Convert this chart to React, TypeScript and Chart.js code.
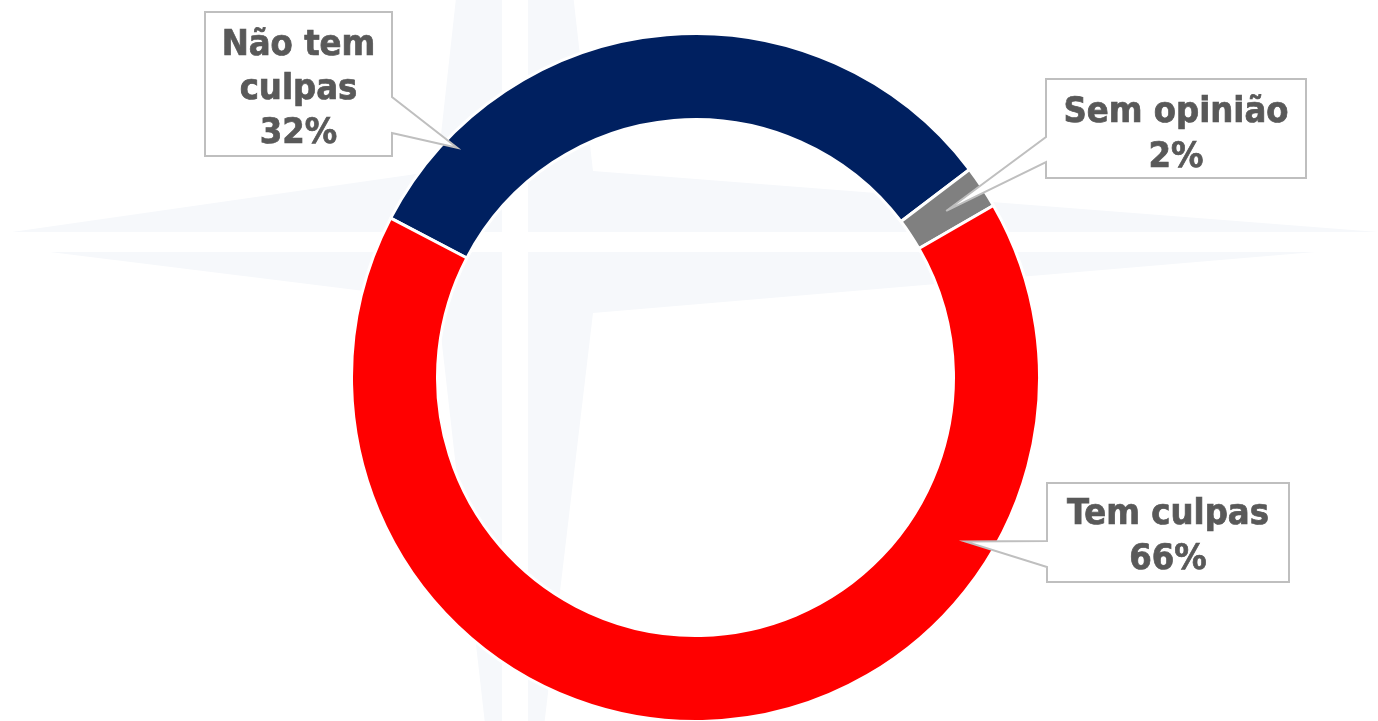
import React, { useEffect, useRef } from "react";
import { Chart, registerables } from "chart.js";

Chart.register(...registerables);

// ---- data ----
const categories = ["Não tem culpas", "Sem opinião", "Tem culpas"];
const values = [32, 2, 66];
const labelLines = [["Não tem", "culpas"], ["Sem opinião"], ["Tem culpas"]];
const colors = ["#002060", "#808080", "#FF0000"];

// ---- callout layout (annotation boxes) ----
type Callout = {
  box: [number, number, number, number];
  side: "left" | "right";
  wedge: [number, number];
  tip: [number, number]; // fraction along arc, fraction across ring
  cx: number;
  baselines: number[];
};
const callouts: Callout[] = [
  { box: [205, 12, 392, 156], side: "right", wedge: [97, 133], tip: [0.142, 0.85], cx: 298.5, baselines: [55, 99, 143] },
  { box: [1046, 79, 1306, 178], side: "left", wedge: [137, 162], tip: [0.5, 0.5], cx: 1176, baselines: [122, 167] },
  { box: [1047, 483, 1289, 582], side: "left", wedge: [541, 567], tip: [0.258, 0.67], cx: 1168, baselines: [524, 569] },
];

const FONT = "bold 36px 'DejaVu Sans Condensed', 'DejaVu Sans', sans-serif";

// faint compass-star watermark behind the chart
const starOutline: [number, number][] = [
  [12, 232], [437, 171], [514, -530], [593, 171], [1378, 232],
  [1315, 252], [593, 313], [514, 980], [437, 300], [50, 252],
];

const watermarkPlugin = {
  id: "watermark",
  beforeDraw(chart: any) {
    const ctx = chart.ctx as CanvasRenderingContext2D;
    ctx.save();
    ctx.fillStyle = "#f6f8fb";
    ctx.beginPath();
    starOutline.forEach(([x, y], i) => (i === 0 ? ctx.moveTo(x, y) : ctx.lineTo(x, y)));
    ctx.closePath();
    ctx.fill();
    ctx.fillStyle = "#ffffff";
    ctx.fillRect(0, 232, chart.width, 20);
    ctx.fillRect(502, 0, 26, chart.height);
    ctx.restore();
  },
};

const calloutPlugin = {
  id: "callouts",
  afterDatasetsDraw(chart: any) {
    const ctx = chart.ctx as CanvasRenderingContext2D;
    const meta = chart.getDatasetMeta(0);
    ctx.save();
    callouts.forEach((c, i) => {
      const arc = meta.data[i];
      if (!arc) return;
      const p = arc.getProps(["x", "y", "startAngle", "endAngle", "innerRadius", "outerRadius"], true);
      const a = p.startAngle + c.tip[0] * (p.endAngle - p.startAngle);
      const r = p.innerRadius + c.tip[1] * (p.outerRadius - p.innerRadius);
      const tx = p.x + r * Math.cos(a);
      const ty = p.y + r * Math.sin(a);
      const [x0, y0, x1, y1] = c.box;
      ctx.beginPath();
      if (c.side === "right") {
        ctx.moveTo(x0, y0);
        ctx.lineTo(x1, y0);
        ctx.lineTo(x1, c.wedge[0]);
        ctx.lineTo(tx, ty);
        ctx.lineTo(x1, c.wedge[1]);
        ctx.lineTo(x1, y1);
        ctx.lineTo(x0, y1);
      } else {
        ctx.moveTo(x0, y0);
        ctx.lineTo(x1, y0);
        ctx.lineTo(x1, y1);
        ctx.lineTo(x0, y1);
        ctx.lineTo(x0, c.wedge[1]);
        ctx.lineTo(tx, ty);
        ctx.lineTo(x0, c.wedge[0]);
      }
      ctx.closePath();
      ctx.fillStyle = "#ffffff";
      ctx.fill();
      ctx.lineWidth = 2;
      ctx.strokeStyle = "#bfbfbf";
      ctx.lineJoin = "miter";
      ctx.stroke();

      const lines = [...labelLines[i], `${values[i]}%`];
      ctx.fillStyle = "#595959";
      ctx.strokeStyle = "#595959";
      ctx.lineWidth = 0.7;
      ctx.font = FONT;
      ctx.textAlign = "center";
      ctx.textBaseline = "alphabetic";
      lines.forEach((t, k) => {
        ctx.fillText(t, c.cx, c.baselines[k]);
        ctx.strokeText(t, c.cx, c.baselines[k]);
      });
    });
    ctx.restore();
  },
};

export default function App() {
  const ref = useRef<HTMLCanvasElement | null>(null);
  useEffect(() => {
    if (!ref.current) return;
    const chart = new Chart(ref.current, {
      type: "doughnut",
      data: {
        labels: categories,
        datasets: [
          {
            data: values,
            backgroundColor: colors,
            borderColor: "#ffffff",
            borderWidth: 3,
            hoverOffset: 0,
            hoverBorderWidth: 3,
          },
        ],
      },
      options: {
        animation: false,
        responsive: true,
        maintainAspectRatio: false,
        rotation: -62.4,
        radius: 344,
        cutout: "75%",
        layout: { padding: { left: 13, top: 34, right: 0, bottom: 0 } },
        plugins: {
          legend: { display: false },
          tooltip: { enabled: false },
        },
      },
      plugins: [watermarkPlugin, calloutPlugin],
    });
    return () => chart.destroy();
  }, []);
  return (
    <div style={{ position: "fixed", left: 0, top: 0, width: 1378, height: 721, background: "#ffffff" }}>
      <canvas ref={ref} />
    </div>
  );
}
